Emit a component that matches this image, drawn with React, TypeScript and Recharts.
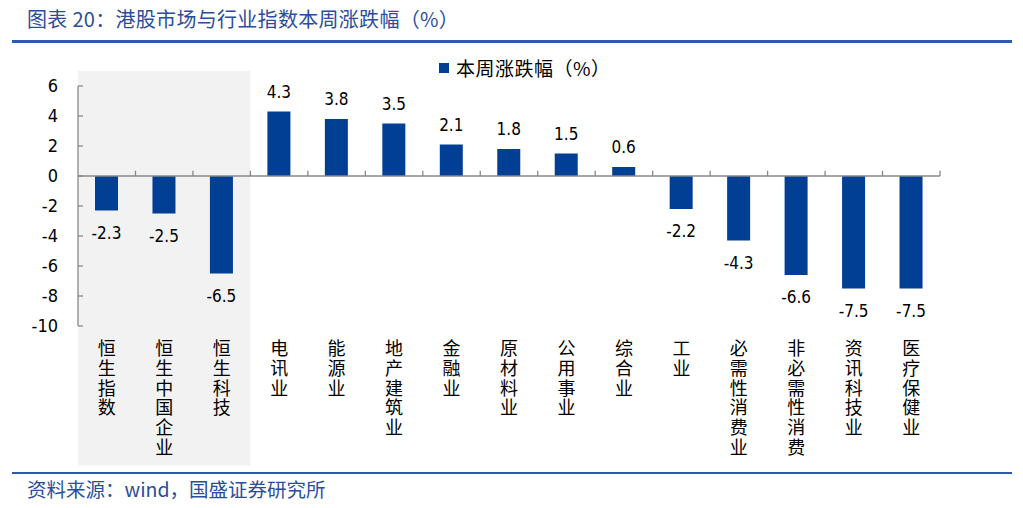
import React from 'react';
import { BarChart, Bar, XAxis, YAxis, ReferenceLine, ReferenceArea, LabelList, Legend } from 'recharts';

const categories = ['恒生指数', '恒生中国企业', '恒生科技', '电讯业', '能源业', '地产建筑业', '金融业', '原材料业', '公用事业', '综合业', '工业', '必需性消费业', '非必需性消费', '资讯科技业', '医疗保健业'];
const weeklyChange = [-2.3, -2.5, -6.5, 4.3, 3.8, 3.5, 2.1, 1.8, 1.5, 0.6, -2.2, -4.3, -6.6, -7.5, -7.5];
const yTicks = [-10, -8, -6, -4, -2, 0, 2, 4, 6];
const shadedCategories = ['恒生指数', '恒生科技'];
const seriesName = '本周涨跌幅（%）';
const titleText = '图表 20：港股市场与行业指数本周涨跌幅（%）';
const sourceText = '资料来源：wind，国盛证券研究所';

const data = categories.map((name, i) => ({ name, value: weeklyChange[i] }));

const BLUE = '#003F94';
const TITLE_BLUE = '#2A4E9B';
const AXIS = '#898989';
const CJK = '"Noto Sans CJK SC", "Noto Sans", sans-serif';
const NUM = '"DejaVu Sans Condensed", "Liberation Sans", sans-serif';

const CategoryTick = (props: any) => {
  const { x, y, payload } = props;
  const chars = String(payload.value).split('');
  return (
    <g>
      {chars.map((c, i) => (
        <text key={i} x={x} y={y + 29 + i * 19.8} textAnchor="middle" fontSize={18} fontFamily={CJK} fill="#000">
          {c}
        </text>
      ))}
    </g>
  );
};

const ValueLabel = (props: any) => {
  const { x, y, width, height, value } = props;
  const top = Math.min(y, y + height);
  const bottom = Math.max(y, y + height);
  const cy = value >= 0 ? top - 20 : bottom + 22;
  return (
    <text x={x + width / 2} y={cy} textAnchor="middle" dominantBaseline="central" fontSize={17} fontFamily={NUM} fill="#000">
      {value}
    </text>
  );
};

const LegendContent = () => (
  <div style={{ display: 'flex', alignItems: 'center', fontFamily: CJK, fontSize: 19, letterSpacing: '0.5px', color: '#000', whiteSpace: 'nowrap' }}>
    <span style={{ display: 'inline-block', width: 10, height: 10, background: BLUE, marginRight: 7 }} />
    <span>{seriesName}</span>
  </div>
);

export default function App() {
  return (
    <div style={{ position: 'absolute', left: 0, top: 0, width: 1023, height: 508, background: '#fff', overflow: 'hidden' }}>
      <div style={{ position: 'absolute', left: 27, top: 4, fontFamily: CJK, fontSize: 20, letterSpacing: '0.3px', color: TITLE_BLUE, whiteSpace: 'nowrap' }}>{titleText}</div>
      <div style={{ position: 'absolute', left: 12, top: 40, width: 1000, height: 3, background: '#2C5BAA' }} />
      <div style={{ position: 'absolute', left: 0, top: 0 }}>
        <BarChart width={1023} height={508} data={data} margin={{ top: 86, right: 83, bottom: 32, left: 18 }}>
          <ReferenceArea x1={shadedCategories[0]} x2={shadedCategories[1]} y1={-19.3} y2={7} ifOverflow="visible" fill="#F2F2F2" fillOpacity={1} stroke="none" />
          <XAxis dataKey="name" axisLine={false} tickLine={false} tickSize={0} tickMargin={0} height={150} interval={0} tick={<CategoryTick />} />
          <YAxis domain={[-10, 6]} ticks={yTicks} width={60} axisLine={{ stroke: AXIS, strokeWidth: 1.3 }} tickLine={{ stroke: AXIS, strokeWidth: 1.3 }} tickSize={-5} tickMargin={25} tick={{ fontSize: 18, fontFamily: NUM, fill: '#000' }} interval={0} allowDataOverflow />
          <ReferenceLine y={0} stroke={AXIS} strokeWidth={1.5} />
          {categories.slice(1).map((c) => (
            <ReferenceLine key={c} segment={[{ x: c, y: 0 }, { x: c, y: 0.35 }]} position="start" stroke={AXIS} strokeWidth={1.3} />
          ))}
          <ReferenceLine segment={[{ x: categories[categories.length - 1], y: 0 }, { x: categories[categories.length - 1], y: 0.35 }]} position="end" stroke={AXIS} strokeWidth={1.3} />
          <Bar dataKey="value" name={seriesName} fill={BLUE} barSize={23} isAnimationActive={false}>
            <LabelList dataKey="value" content={<ValueLabel />} />
          </Bar>
          <Legend layout="vertical" align="center" verticalAlign="middle" content={<LegendContent />} wrapperStyle={{ top: 54, left: 439, width: 220, height: 24 }} />
        </BarChart>
      </div>
      <div style={{ position: 'absolute', left: 12, top: 472, width: 1000, height: 2, background: '#2C5BAA' }} />
      <div style={{ position: 'absolute', left: 27, top: 474, fontFamily: CJK, fontSize: 19.5, color: TITLE_BLUE, whiteSpace: 'nowrap' }}>{sourceText}</div>
    </div>
  );
}
